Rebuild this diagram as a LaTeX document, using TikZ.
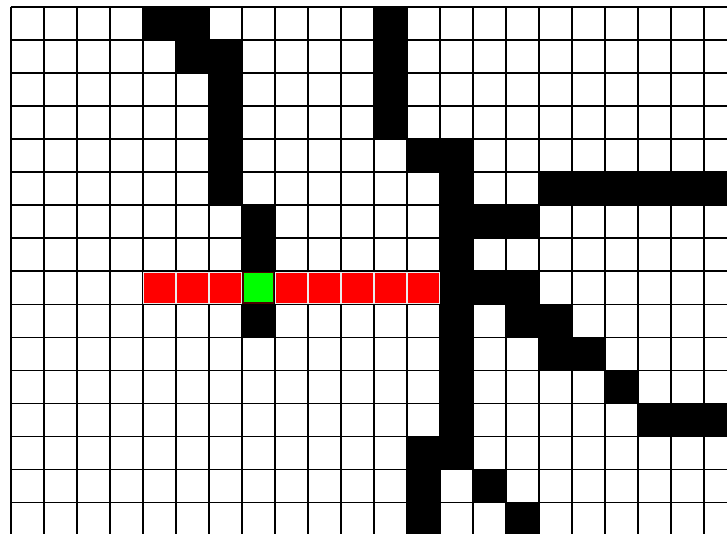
\documentclass[tikz,border=0pt]{standalone}
\definecolor{cellred}{RGB}{255,0,0}
\definecolor{cellgreen}{RGB}{0,255,0}
\tikzset{
  gridline/.style={draw=black, line width=1.6pt},
  wallcell/.style={fill=black},
  pathcell/.style={fill=cellred, draw=white!85!gray, line width=0.6pt},
  startcell/.style={fill=cellgreen, draw=black!70!red, line width=1.4pt}
}
\begin{document}
\begin{tikzpicture}[x=1pt,y=-1pt]
\useasboundingbox (0,0) rectangle (727,534);
\begin{scope}
\clip (0,0) rectangle (727,534);
\fill[white] (0,0) rectangle (727,534);
% grid
\foreach \k in {0,...,21}
  \draw[gridline] ({10.7+33*\k},7.3) -- ({10.7+33*\k},540);
\foreach \k in {0,...,15}
  \draw[gridline] (10.7,{7.3+33*\k}) -- (740,{7.3+33*\k});
% walls
\foreach \c/\r in {4/0,5/0,11/0,
                   5/1,6/1,11/1,
                   6/2,11/2,
                   6/3,11/3,
                   6/4,12/4,13/4,
                   6/5,13/5,16/5,17/5,18/5,19/5,20/5,21/5,
                   7/6,13/6,14/6,15/6,
                   7/7,13/7,
                   13/8,14/8,15/8,
                   7/9,13/9,15/9,16/9,
                   13/10,16/10,17/10,
                   13/11,18/11,
                   13/12,19/12,20/12,21/12,
                   12/13,13/13,
                   12/14,14/14,
                   12/15,15/15}
  \fill[wallcell] ({10.7+33*\c},{7.3+33*\r}) rectangle ++(33,33);
% path
\foreach \c in {4,5,6,8,9,10,11,12}
  \path[pathcell] ({10.7+33*\c+0.4},{7.3+33*8+0.9}) rectangle ++(32.2,31.2);
% start
\path[startcell] ({10.7+33*7+1.3},{7.3+33*8+1.3}) rectangle ++(30.4,30.4);
\end{scope}
\end{tikzpicture}
\end{document}
